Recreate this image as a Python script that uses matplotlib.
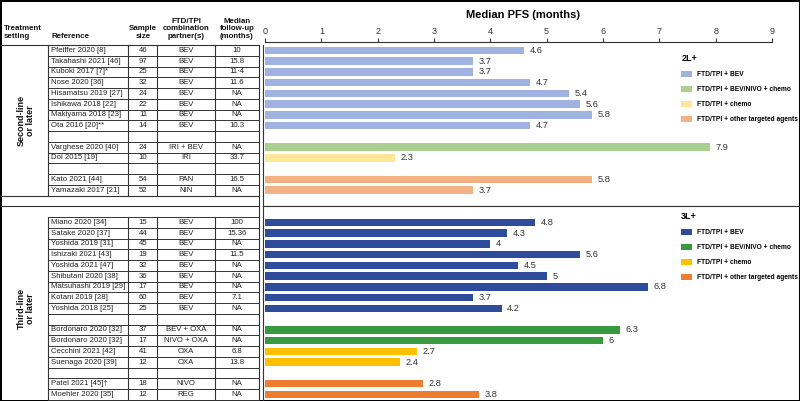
"""FTD/TPI combination studies: median PFS by treatment line"""
import matplotlib.pyplot as plt
from matplotlib.patches import Patch

plt.rcParams["font.family"] = ["Liberation Sans", "DejaVu Sans"]

# ── data ──
refs_2l = ["Pfeiffer 2020 [8]", "Takahashi 2021 [46]", "Kuboki 2017 [7]*", "Nose 2020 [36]",
           "Hisamatsu 2019 [27]", "Ishikawa 2018 [22]", "Makiyama 2018 [23]", "Ota 2016 [20]**",
           "Varghese 2020 [40]", "Doi 2015 [19]", "Kato 2021 [44]", "Yamazaki 2017 [21]"]
n_2l = [46, 97, 25, 32, 24, 22, 11, 14, 24, 10, 54, 52]
partner_2l = ["BEV"] * 8 + ["IRI + BEV", "IRI", "PAN", "NIN"]
fu_2l = ["10", "15.8", "11·4", "11.6", "NA", "NA", "NA", "10.3", "NA", "33.7", "16.5", "NA"]
pfs_2l = [4.6, 3.7, 3.7, 4.7, 5.4, 5.6, 5.8, 4.7, 7.9, 2.3, 5.8, 3.7]
grp_2l = [0] * 8 + [1, 2, 3, 3]

refs_3l = ["Miano 2020 [34]", "Satake 2020 [37]", "Yoshida 2019 [31]", "Ishizaki 2021 [43]",
           "Yoshida 2021 [47]", "Shibutani 2020 [38]", "Matsuhashi 2019 [29]", "Kotani 2019 [28]",
           "Yoshida 2018 [25]", "Bordonaro 2020 [32]", "Bordonaro 2020 [32]", "Cecchini 2021 [42]",
           "Suenaga 2020 [39]", "Patel 2021 [45]†", "Moehler 2020 [35]"]
n_3l = [15, 44, 45, 19, 32, 36, 17, 60, 25, 37, 17, 41, 12, 18, 12]
partner_3l = ["BEV"] * 9 + ["BEV + OXA", "NIVO + OXA", "OXA", "OXA", "NIVO", "REG"]
fu_3l = ["100", "15.36", "NA", "11.5", "NA", "NA", "NA", "7.1", "NA", "NA", "NA", "6.8", "13.8", "NA", "NA"]
pfs_3l = [4.8, 4.3, 4, 5.6, 4.5, 5, 6.8, 3.7, 4.2, 6.3, 6, 2.7, 2.4, 2.8, 3.8]
grp_3l = [0] * 9 + [1, 1, 2, 2, 3, 3]

groups = ["FTD/TPI + BEV", "FTD/TPI + BEV/NIVO + chemo", "FTD/TPI + chemo",
          "FTD/TPI + other targeted agents"]
colors_2l = ["#9fb2e0", "#a9d08e", "#ffe699", "#f4b183"]
colors_3l = ["#2f4b9b", "#389a3e", "#ffc000", "#ed7d31"]
ticks = list(range(10))

# ── layout (pixels) ──
W, H = 800, 401
RH = 10.75          # row height
TOP = 45            # header bottom
COLS = [0, 48, 128, 157, 215, 259]
PLOT_L = 263
X0, PX = 265, 56.33  # pixel of 0 months, pixels per month
LINE = "#333333"
BLOCK = {0: 0, 1: 1, 2: 1, 3: 2}   # chemo-type groups share a block, blank row between blocks


def layout_rows(grp, start):
    rows, r, prev = [], start, BLOCK[grp[0]]
    for g in grp:
        if BLOCK[g] != prev:
            r += 1
        rows.append(r)
        prev = BLOCK[g]
        r += 1
    return rows


rows_2l = layout_rows(grp_2l, 0)      # rows 0..13
rows_3l = layout_rows(grp_3l, 16)     # rows 16..32

fig = plt.figure(figsize=(W / 100, H / 100), dpi=100)
fig.patch.set_edgecolor("black")
fig.patch.set_linewidth(2)

# ── table (pixel overlay) ──
tab = fig.add_axes([0, 0, 1, 1])
tab.set_xlim(0, W)
tab.set_ylim(H, 0)
tab.axis("off")
tab.patch.set_visible(False)

hdr = dict(fontsize=5.7, fontweight="bold", va="bottom", linespacing=1.1, color="#111")
tab.text(4, 40, "Treatment\nsetting", ha="left", **hdr)
tab.text(51, 40, "Reference", ha="left", **hdr)
tab.text(143, 40, "Sample\nsize", ha="center", multialignment="center", **hdr)
tab.text(186, 40, "FTD/TPI\ncombination\npartner(s)", ha="center", multialignment="center", **hdr)
tab.text(237, 40, "Median\nfollow-up\n(months)", ha="center", multialignment="center", **hdr)

y = lambda r: TOP + r * RH
tab.plot([0, COLS[-1]], [TOP, TOP], color=LINE, lw=0.8)
for lo, hi in [(0, 14), (16, 33)]:
    for k in range(lo, hi + 1):
        tab.plot([COLS[1], COLS[-1]], [y(k), y(k)], color=LINE, lw=0.7)
    for cx in COLS[1:-1]:
        tab.plot([cx, cx], [y(lo), y(hi)], color=LINE, lw=0.8)
tab.plot([0, COLS[-1]], [y(14), y(14)], color=LINE, lw=0.8)
tab.plot([0, COLS[-1]], [y(15), y(15)], color=LINE, lw=0.8)
tab.plot([COLS[-1], COLS[-1]], [TOP, H], color=LINE, lw=0.8)

body = dict(fontsize=5.6, va="center", color="#222")
for refs, ns, parts, fus, rows in [(refs_2l, n_2l, partner_2l, fu_2l, rows_2l),
                                   (refs_3l, n_3l, partner_3l, fu_3l, rows_3l)]:
    for ref, n, p, f, r in zip(refs, ns, parts, fus, rows):
        yc = y(r + 0.5)
        tab.text(51, yc, ref, ha="left", **body)
        tab.text(143, yc, str(n), ha="center", **body)
        tab.text(186, yc, p, ha="center", **body)
        tab.text(237, yc, f, ha="center", **body)

setting = dict(fontsize=6.5, fontweight="bold", rotation=90, ha="center", va="center",
               multialignment="center", linespacing=1.1, color="#111")
tab.text(26, (y(0) + y(14)) / 2, "Second-line\nor later", **setting)
tab.text(26, (y(16) + y(33)) / 2, "Third-line\nor later", **setting)

# ── bar panels ──
sep = y(15)
bot = y(33)
xl = ((PLOT_L - X0) / PX, (W - 1 - X0) / PX)
ax1 = fig.add_axes([PLOT_L / W, 1 - sep / H, (W - 1 - PLOT_L) / W, (sep - TOP) / H])
ax2 = fig.add_axes([PLOT_L / W, 1 - bot / H, (W - 1 - PLOT_L) / W, (bot - sep) / H])

for ax, vals, grp, rows, cols, off, nrows in [
        (ax1, pfs_2l, grp_2l, rows_2l, colors_2l, 0, 15),
        (ax2, pfs_3l, grp_3l, rows_3l, colors_3l, 15, 18)]:
    ys = [r - off + 0.5 for r in rows]
    ax.barh(ys, vals, height=0.7, color=[cols[g] for g in grp])
    for yy, v in zip(ys, vals):
        ax.text(v + 0.1, yy, f"{v:g}", va="center", fontsize=6.7, color="#333")
    ax.set_xlim(*xl)
    ax.set_ylim(nrows, 0)
    ax.set_yticks([])
    ax.spines["right"].set_visible(False)
    for s in ax.spines.values():
        s.set_color(LINE)
        s.set_linewidth(0.8)
    ax.legend(handles=[Patch(facecolor=c) for c in cols], labels=groups,
              title="2L+" if ax is ax1 else "3L+", alignment="left", frameon=False,
              title_fontproperties={"weight": "bold", "size": 6.5},
              prop={"weight": "bold", "size": 4.8}, loc="upper left",
              bbox_to_anchor=(678 / W, 1 - (51 if ax is ax1 else 209) / H),
              bbox_transform=fig.transFigure, borderpad=0, handlelength=1.6,
              handleheight=1.0, handletextpad=0.7, labelspacing=1.15)

ax1.spines["top"].set_bounds(0, 9)
ax1.spines["top"].set_position(("outward", 2.2))
ax1.xaxis.tick_top()
ax1.set_xticks(ticks)
ax1.tick_params(axis="x", direction="out", length=3, width=0.8, pad=1.5,
                labelsize=6.5, labelcolor="#333", color=LINE)
ax1.set_xlabel("Median PFS (months)", fontsize=8, fontweight="bold")
ax1.xaxis.set_label_position("top")
ax1.xaxis.set_label_coords((523 - PLOT_L) / (W - 1 - PLOT_L), 1 + (TOP - 15) / (sep - TOP))
ax1.xaxis.label.set_va("center")

ax2.spines["bottom"].set_visible(False)
ax2.set_xticks([])

fig.savefig("out.png", dpi=100)
